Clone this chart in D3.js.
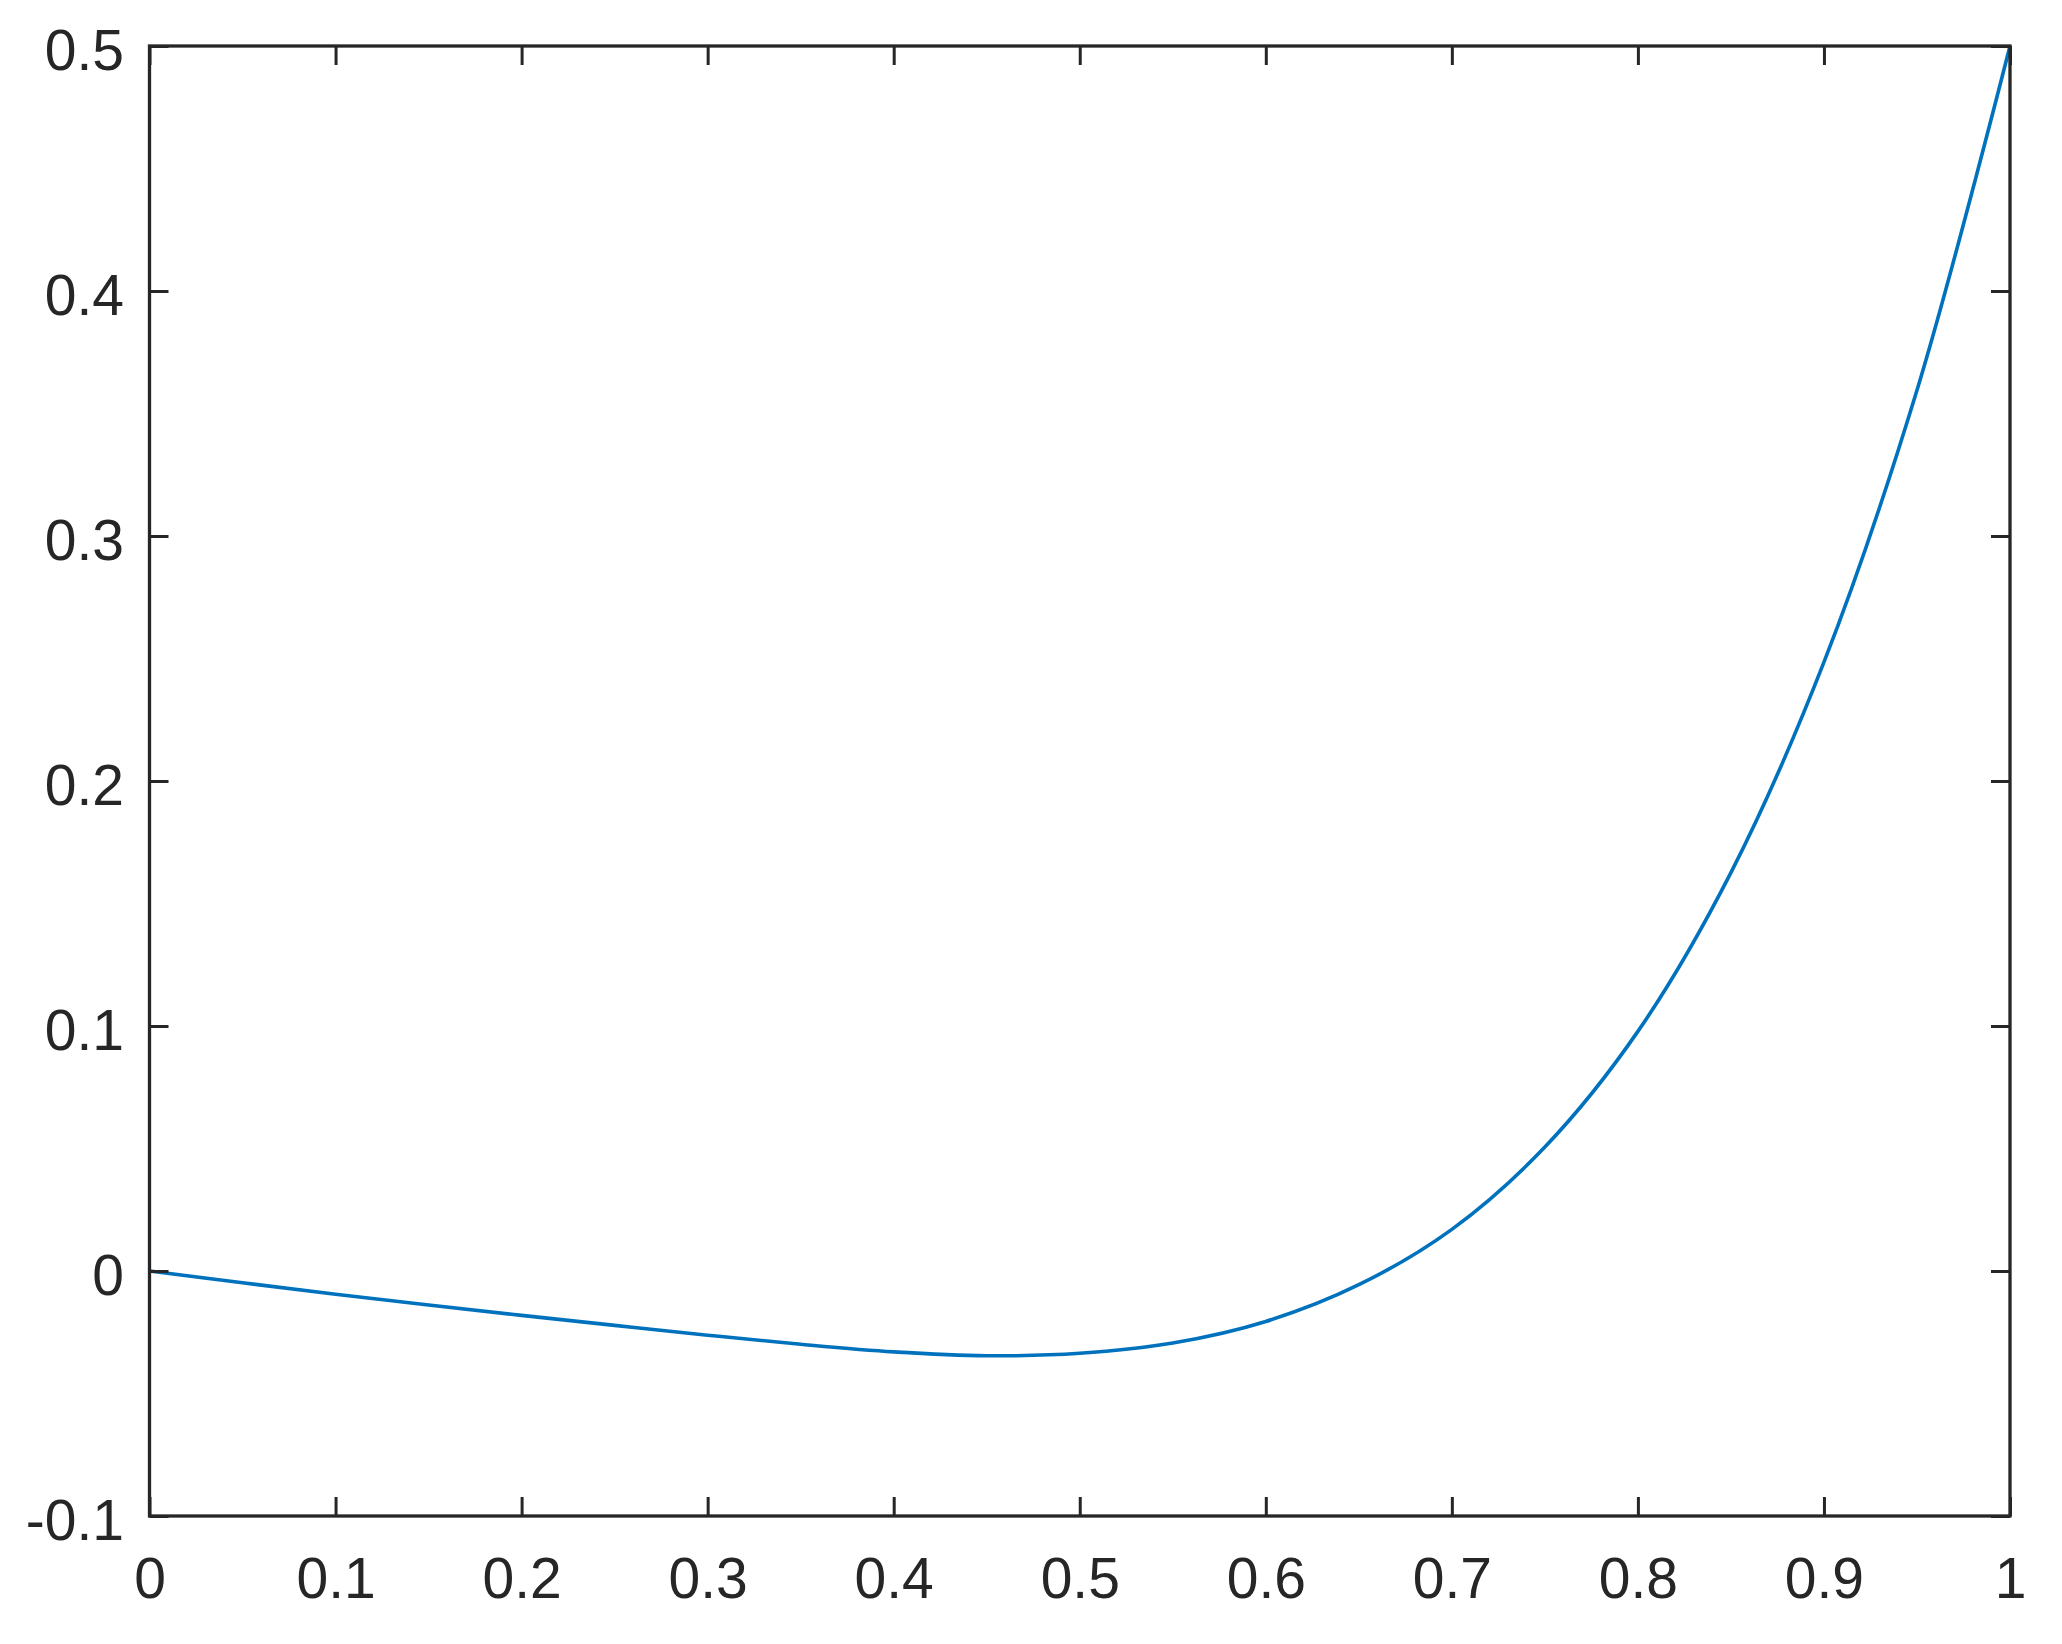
<!DOCTYPE html>
<html>
<head>
<meta charset="utf-8">
<script src="https://cdn.jsdelivr.net/npm/d3@7"></script>
<style>
  html, body { margin: 0; padding: 0; background: #fff; }
  svg { display: block; }
</style>
</head>
<body>
<script>
// ---- data ----
const xValues = [0, 0.05, 0.1, 0.15, 0.2, 0.25, 0.3, 0.35, 0.4, 0.45, 0.5, 0.55, 0.6, 0.65, 0.7, 0.75, 0.8, 0.85, 0.9, 0.95, 1.0];
const yValues = [0, -0.0048, -0.0095, -0.0139, -0.0181, -0.0222, -0.0262, -0.0299, -0.0330, -0.0346, -0.0336, -0.0294, -0.0206, -0.0056, 0.0170, 0.0506, 0.0978, 0.1626, 0.2485, 0.3595, 0.5000];
const xTicks = [0, 0.1, 0.2, 0.3, 0.4, 0.5, 0.6, 0.7, 0.8, 0.9, 1];
const xTickLabels = ["0", "0.1", "0.2", "0.3", "0.4", "0.5", "0.6", "0.7", "0.8", "0.9", "1"];
const yTicks = [-0.1, 0, 0.1, 0.2, 0.3, 0.4, 0.5];
const yTickLabels = ["-0.1", "0", "0.1", "0.2", "0.3", "0.4", "0.5"];

// ---- layout ----
const W = 2062, H = 1644;
const plotL = 149.5, plotR = 2010, plotT = 46, plotB = 1516;
const axisColor = "#262626";
const fontFamily = "'Liberation Sans', Arial, Helvetica, sans-serif";
const fontSize = 57;
const tickLen = 19;

const svg = d3.select("body").append("svg")
  .attr("width", W).attr("height", H);
svg.append("rect").attr("width", W).attr("height", H).attr("fill", "#fff");

const x = d3.scaleLinear().domain([0, 1]).range([plotL, plotR]);
const y = d3.scaleLinear().domain([-0.1, 0.5]).range([plotB, plotT]);

const data = xValues.map((v, i) => ({ x: v, y: yValues[i] }));

// curve
const line = d3.line().x(d => x(d.x)).y(d => y(d.y)).curve(d3.curveCatmullRom.alpha(0.5));
svg.append("path").datum(data)
  .attr("d", line)
  .attr("fill", "none")
  .attr("stroke", "#0072BD")
  .attr("stroke-width", 3.6)
  .attr("stroke-linejoin", "round");

// axes with inward ticks
function styleAxis(g) {
  g.selectAll(".domain").remove();
  g.selectAll(".tick line").attr("stroke", axisColor).attr("stroke-width", 3);
  g.selectAll(".tick text").attr("fill", axisColor)
    .attr("font-family", fontFamily).attr("font-size", fontSize);
}

const xAxisBottom = d3.axisBottom(x).tickValues(xTicks)
  .tickFormat((d, i) => xTickLabels[i]).tickSizeInner(-tickLen).tickSizeOuter(0).tickPadding(0);
const gxb = svg.append("g").attr("transform", `translate(0,${plotB})`).call(xAxisBottom);
styleAxis(gxb);
gxb.selectAll(".tick text").attr("y", 82).attr("dy", null);

const xAxisTop = d3.axisTop(x).tickValues(xTicks).tickFormat("").tickSizeInner(-tickLen).tickSizeOuter(0);
const gxt = svg.append("g").attr("transform", `translate(0,${plotT})`).call(xAxisTop);
styleAxis(gxt);

const yAxisLeft = d3.axisLeft(y).tickValues(yTicks)
  .tickFormat((d, i) => yTickLabels[i]).tickSizeInner(-tickLen).tickSizeOuter(0).tickPadding(0);
const gyl = svg.append("g").attr("transform", `translate(${plotL},0)`).call(yAxisLeft);
styleAxis(gyl);
gyl.selectAll(".tick text").attr("x", -25.5).attr("dy", null).attr("y", 23.5).attr("text-anchor", "end");

const yAxisRight = d3.axisRight(y).tickValues(yTicks).tickFormat("").tickSizeInner(-tickLen).tickSizeOuter(0);
const gyr = svg.append("g").attr("transform", `translate(${plotR},0)`).call(yAxisRight);
styleAxis(gyr);

// frame
svg.append("rect")
  .attr("x", plotL).attr("y", plotT)
  .attr("width", plotR - plotL).attr("height", plotB - plotT)
  .attr("fill", "none").attr("stroke", axisColor).attr("stroke-width", 3.3);
</script>
</body>
</html>
